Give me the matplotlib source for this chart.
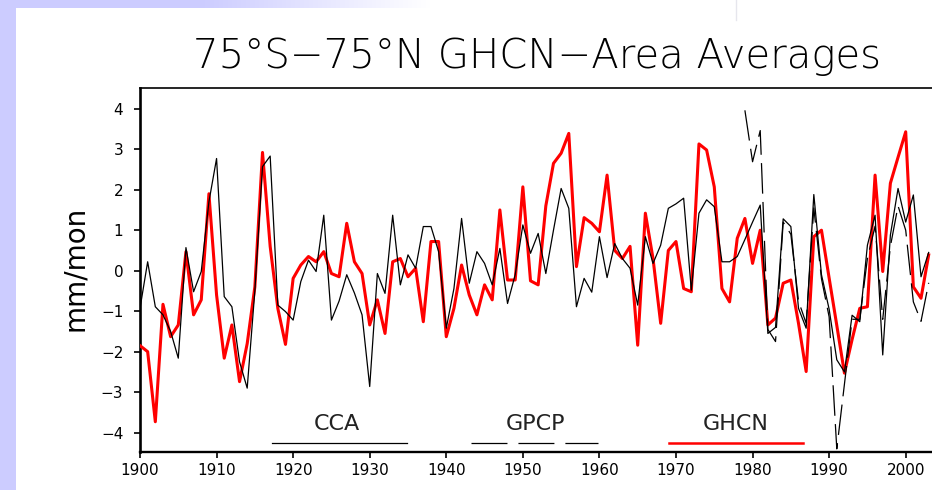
import numpy as np
import matplotlib
matplotlib.use("Agg")
import matplotlib.pyplot as plt
from matplotlib.patches import Rectangle

plt.rcParams['font.family'] = ['DejaVu Sans']
plt.rcParams['lines.scale_dashes'] = False

# ---------------- data ----------------
years = list(range(1900, 2004))

ghcn = [-1.85, -2.00, -3.73, -0.83, -1.63, -1.34, 0.47, -1.09, -0.72, 1.90,
        -0.60, -2.16, -1.34, -2.74, -1.80, -0.40, 2.92, 0.60, -0.93, -1.82,
        -0.19, 0.14, 0.35, 0.22, 0.47, -0.07, -0.15, 1.17, 0.22, -0.07,
        -1.34, -0.72, -1.55, 0.22, 0.30, -0.15, 0.06, -1.26, 0.72, 0.72,
        -1.63, -0.93, 0.14, -0.60, -1.09, -0.35, -0.72, 1.50, -0.23, -0.23,
        2.07, -0.25, -0.35, 1.60, 2.65, 2.90, 3.39, 0.10, 1.31, 1.17,
        0.96, 2.36, 0.50, 0.30, 0.60, -1.84, 1.42, 0.30, -1.30, 0.50,
        0.72, -0.44, -0.52, 3.13, 2.98, 2.07, -0.44, -0.77, 0.80, 1.29,
        0.18, 1.00, -1.34, -1.17, -0.31, -0.23, -1.30, -2.49, 0.84, 1.00,
        -0.18, -1.35, -2.53, -1.70, -0.93, -0.89, 2.36, -0.02, 2.16, 2.80,
        3.43, -0.40, -0.68, 0.39]

cca = [-0.93, 0.22, -0.89, -1.09, -1.50, -2.16, 0.57, -0.52, -0.02, 1.70,
       2.77, -0.64, -0.89, -2.25, -2.90, -0.50, 2.57, 2.83, -0.85, -1.01,
       -1.22, -0.27, 0.26, -0.02, 1.37, -1.22, -0.75, -0.10, -0.55, -1.09,
       -2.86, -0.07, -0.56, 1.37, -0.35, 0.39, 0.06, 1.09, 1.09, 0.47,
       -1.42, -0.44, 1.29, -0.31, 0.47, 0.18, -0.35, 0.55, -0.81, -0.10,
       1.13, 0.43, 0.92, -0.07, 1.00, 2.03, 1.54, -0.89, -0.19, -0.53,
       0.84, -0.17, 0.67, 0.30, 0.06, -0.85, 0.84, 0.18, 0.63, 1.54,
       1.65, 1.79, -0.48, 1.42, 1.75, 1.58, 0.22, 0.22, 0.35, 0.77,
       1.20, 1.62, -1.55, -1.40, 1.28, 1.09, -0.93, -1.42, 1.88, -0.10,
       -0.95, -2.20, -2.50, -1.10, -1.26, 0.63, 1.37, -2.08, 0.88, 2.03,
       1.20, 1.87, -0.15, 0.45]

gpcp_years = list(range(1979, 2004))
gpcp = [3.96, 2.69, 3.46, -1.45, -1.75, 1.20, 0.90, -0.75, -1.30, 1.55,
        -0.20, -1.14, -4.40, -2.80, -1.20, -1.20, 0.30, 1.10, -1.20, 0.60,
        1.60, 1.00, -0.77, -1.25, -0.30]

title = "75°S\u221275°N GHCN\u2212Area Averages"
ylabel = "mm/mon"
xticks = list(range(1900, 2001, 10))
yticks = [-4, -3, -2, -1, 0, 1, 2, 3, 4]

# ---------------- figure ----------------
W, H = 932, 490
fig = plt.figure(figsize=(W / 100, H / 100), dpi=100)
fig.patch.set_facecolor('white')

# slide background decorations
bg = fig.add_axes([0, 0, 1, 1], zorder=-10)
bg.axis('off')
purple = np.array([204, 204, 255]) / 255.0
xs = np.arange(16, 440)
t = np.clip((xs - 200) / 230.0, 0, 1)
grad = (purple[None, :] * (1 - t[:, None]) + np.ones(3)[None, :] * t[:, None])
bg.imshow(grad[None, :, :], extent=(16, 440, 8, 0), aspect='auto', interpolation='bilinear')
bg.add_patch(Rectangle((0, 0), 16, H, color=purple, lw=0))
bg.add_patch(Rectangle((0, 0), 16, 8, color=purple, lw=0))
bg.plot([736, 736], [0, 20], color=(0.9, 0.9, 0.93), lw=1)
bg.set_xlim(0, W)
bg.set_ylim(H, 0)

# main axes
left_px, bottom_px, top_px = 140, 452, 88
x_max = 2005
px_per_year = 7.657
right_px = left_px + (x_max - 1900) * px_per_year
ax = fig.add_axes([left_px / W, 1 - bottom_px / H,
                   (right_px - left_px) / W, (bottom_px - top_px) / H])
ax.set_xlim(1900, x_max)
ax.set_ylim(-4.477, 4.511)
ax.set_facecolor('none')

ax.plot(years, ghcn, color='#ff0000', lw=2.2, zorder=3)
ax.plot(years, cca, color='black', lw=0.9, zorder=4)
ax.plot(gpcp_years, gpcp, color='black', lw=0.9, dashes=(22, 6), zorder=5)

# in-plot legend
ax.plot([1917.2, 1934.9], [-4.25, -4.25], color='black', lw=0.9)
ax.text(1925.7, -3.79, "CCA", ha='center', va='center', fontsize=16, color='#222222')
ax.plot([1943.2, 1959.8], [-4.25, -4.25], color='black', lw=0.9, dashes=(25.9, 7.9))
ax.text(1951.6, -3.79, "GPCP", ha='center', va='center', fontsize=16, color='#222222')
ax.plot([1969.1, 1986.6], [-4.25, -4.25], color='#ff0000', lw=1.8)
ax.text(1977.8, -3.79, "GHCN", ha='center', va='center', fontsize=16, color='#222222')

ax.set_xticks(xticks)
ax.set_yticks(yticks)
ax.tick_params(axis='both', direction='out', length=4, width=1.2, labelsize=11)
ax.tick_params(axis='y', pad=8)
ax.tick_params(axis='x', pad=4)
ax.spines['right'].set_visible(False)
ax.spines['left'].set_linewidth(1.9)
ax.spines['bottom'].set_linewidth(1.7)
ax.spines['top'].set_linewidth(1.2)

fig.text(537 / W, 1 - 57 / H, title, ha='center', va='center', fontsize=29,
         fontweight='light', color='black')
fig.text(75 / W, 1 - 268 / H, ylabel, rotation=90, ha='center', va='center',
         fontsize=20, color='black')

fig.savefig("out.png", dpi=100, facecolor=fig.get_facecolor())
